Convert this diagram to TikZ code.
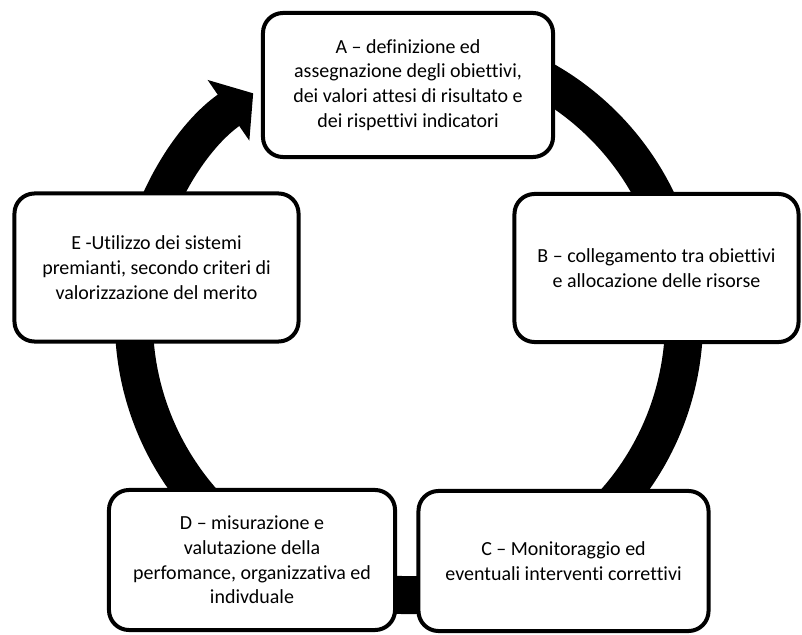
\documentclass[tikz,border=0pt]{standalone}
\usepackage{fontspec}
\setmainfont{Carlito}[Ligatures=NoCommon]
\usetikzlibrary{arrows.meta}

\begin{document}
\begin{tikzpicture}[x=0.025cm,y=-0.025cm,
  phase/.style={draw, line width=0.1cm, rounded corners=0.5cm, fill=white, align=center,
    font=\fontsize{14.2}{17.6}\selectfont, inner sep=0pt},
  cycle/.style={line width=0.95cm, -{Triangle[width=1.8cm,length=0.75cm]}}]
\useasboundingbox (0,0) rectangle (802,635);
\coordinate (o) at (409,320);

\path[draw,cycle] ([shift={(80:6.875cm)}]o) arc[start angle=80, end angle=-235.5, radius=6.875cm];

\node[phase, minimum width=7.25cm, minimum height=3.6cm] (A) at (408,85) {A – definizione ed\\assegnazione degli obiettivi,\\dei valori attesi di risultato e\\dei rispettivi indicatori};
\node[phase, minimum width=7.1cm, minimum height=3.7cm] (B) at (656.5,268) {B – collegamento tra obiettivi\\e allocazione delle risorse};
\node[phase, minimum width=7.25cm, minimum height=3.5cm] (C) at (563.5,561) {C – Monitoraggio ed\\eventuali interventi correttivi};
\node[phase, minimum width=7.15cm, minimum height=3.5cm] (D) at (252,560) {D – misurazione e\\valutazione della\\perfomance, organizzativa ed\\indivduale};
\node[phase, minimum width=7.1cm, minimum height=3.7cm] (E) at (156.5,267.5) {E -Utilizzo dei sistemi\\premianti, secondo criteri di\\valorizzazione del merito};
\end{tikzpicture}
\end{document}
